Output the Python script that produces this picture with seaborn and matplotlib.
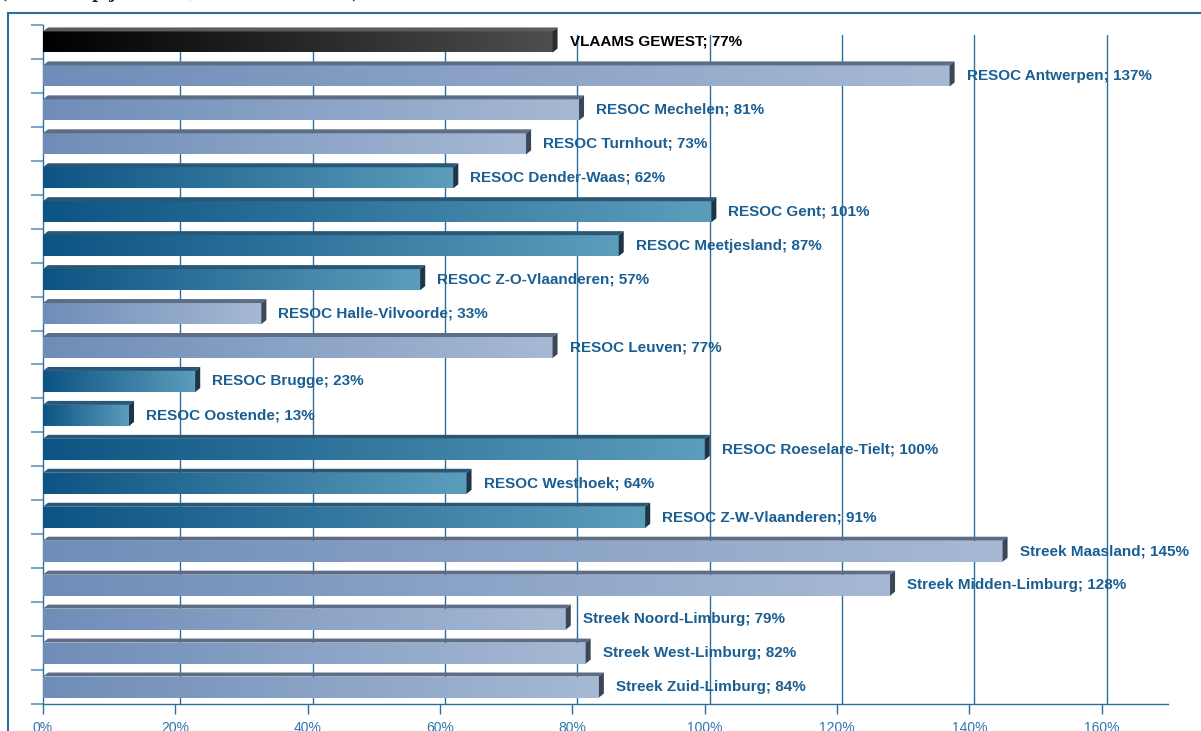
import numpy as np
import pandas as pd
import matplotlib
matplotlib.use('Agg')
import matplotlib.pyplot as plt
import seaborn as sns
from matplotlib.colors import LinearSegmentedColormap
from matplotlib.patches import Rectangle, Polygon
from matplotlib.transforms import ScaledTranslation

# %% data
regios = ['VLAAMS GEWEST', 'RESOC Antwerpen', 'RESOC Mechelen', 'RESOC Turnhout',
          'RESOC Dender-Waas', 'RESOC Gent', 'RESOC Meetjesland', 'RESOC Z-O-Vlaanderen',
          'RESOC Halle-Vilvoorde', 'RESOC Leuven', 'RESOC Brugge', 'RESOC Oostende',
          'RESOC Roeselare-Tielt', 'RESOC Westhoek', 'RESOC Z-W-Vlaanderen',
          'Streek Maasland', 'Streek Midden-Limburg', 'Streek Noord-Limburg',
          'Streek West-Limburg', 'Streek Zuid-Limburg']
waarden = [77, 137, 81, 73, 62, 101, 87, 57, 33, 77, 23, 13, 100, 64, 91, 145, 128, 79, 82, 84]
groep = ['vl', 'licht', 'licht', 'licht', 'donker', 'donker', 'donker', 'donker',
         'licht', 'licht', 'donker', 'donker', 'donker', 'donker', 'donker',
         'licht', 'licht', 'licht', 'licht', 'licht']
x_ticks = [0, 20, 40, 60, 80, 100, 120, 140, 160]

df = pd.DataFrame({'regio': regios, 'waarde': waarden, 'groep': groep})

# kleuren: (links, rechts, bovenvlak, zijvlak)
kleuren = {
    'vl': ('#000000', '#4e4e4e', '#5c5c5c', '#2b2b2b'),
    'licht': ('#6f8db8', '#a6b9d4', '#5d6d86', '#3b4656'),
    'donker': ('#0c5483', '#5d9dbc', '#2a5677', '#1e3447'),
}
blauw = '#2a6f9e'

# %% plot
sns.set_theme(style='white')
plt.rcParams['font.family'] = ['Liberation Sans', 'DejaVu Sans']

W, H = 1201, 731
fig = plt.figure(figsize=(W / 100, H / 100), dpi=100)
ax = fig.add_axes([43 / W, 1 - 704 / H, (1168 - 43) / W, (704 - 25) / H])

sns.barplot(data=df, y='regio', x='waarde', orient='h', color='white',
            saturation=1, width=0.62, ax=ax, zorder=3)

ax.set_xlim(0, 170)
ax.set_ylim(len(regios) - 0.5, -0.5)

# pixels -> data
ax_w_px = (1168 - 43)
ax_h_px = (704 - 25)
dx = 5 * 170 / ax_w_px
dy = 4 * len(regios) / ax_h_px

grad = np.linspace(0, 1, 256).reshape(1, -1)
for bar, g, regio, w in zip(ax.patches, groep, regios, waarden):
    x0, y0 = bar.get_x(), bar.get_y()
    bw, bh = bar.get_width(), bar.get_height()
    links, rechts, boven, zij = kleuren[g]
    cmap = LinearSegmentedColormap.from_list(g, [links, rechts])
    im = ax.imshow(grad, cmap=cmap, aspect='auto', interpolation='bilinear',
                   extent=(x0, x0 + bw, y0 + bh, y0), zorder=3)
    im.set_clip_path(bar)
    bar.set_facecolor('none')
    bar.set_edgecolor('none')
    ax.add_patch(Polygon([(x0, y0), (x0 + bw, y0), (x0 + bw + dx, y0 - dy), (x0 + dx, y0 - dy)],
                         closed=True, fc=boven, ec='none', zorder=4))
    ax.add_patch(Polygon([(x0 + bw, y0), (x0 + bw + dx, y0 - dy), (x0 + bw + dx, y0 + bh - dy),
                          (x0 + bw, y0 + bh)], closed=True, fc=zij, ec='none', zorder=4))
    kleur = 'black' if g == 'vl' else '#1a5e92'
    ax.annotate(f'{regio}; {w}%', xy=(x0 + bw, y0 + bh / 2), xytext=(17, 0),
                textcoords='offset pixels', ha='left', va='center',
                fontsize=11, fontweight='bold', color=kleur, zorder=6)

ax.set_xlim(0, 170)
ax.set_ylim(len(regios) - 0.5, -0.5)

# rasterlijnen (iets verschoven voor het 3D-effect)
verschuif = ScaledTranslation(5 / 100, 0, fig.dpi_scale_trans)
for t in x_ticks[1:]:
    ax.plot([t, t], [0, 0.985], color=blauw, lw=1, zorder=1,
            transform=ax.get_xaxis_transform() + verschuif)

ax.set_xticks(x_ticks)
ax.set_xticklabels([f'{t}%' for t in x_ticks])
ax.set_yticks([])
ax.set_yticks(np.arange(-0.5, len(regios), 1), minor=True)
ax.tick_params(axis='x', bottom=True, length=7, width=1, color=blauw,
               labelcolor='#2a78ae', labelsize=10, pad=5)
ax.tick_params(axis='y', which='minor', left=True, length=9, width=1.5, color='#7fa8c8')
ax.set_xlabel('')
ax.set_ylabel('')
for s in ['top', 'right']:
    ax.spines[s].set_visible(False)
for s in ['left', 'bottom']:
    ax.spines[s].set_color(blauw)
    ax.spines[s].set_linewidth(1)

# kader rond de grafiek
fig.patches.append(Rectangle((8 / W, -0.1), 1.2, 1 - 13 / H + 0.1, transform=fig.transFigure,
                             fill=False, ec=blauw, lw=1.5))
fig.text(0.0, 1 + 8 / H, '(evolutie op jaarbasis, 1e kwartaal 2008)', ha='left', va='center',
         fontsize=15, fontweight='bold', family=['Liberation Serif', 'DejaVu Serif'])

fig.savefig('out.png', dpi=100)
